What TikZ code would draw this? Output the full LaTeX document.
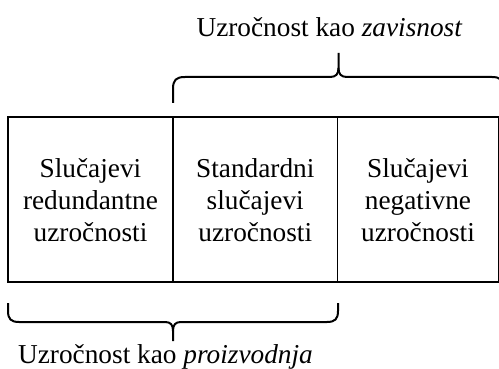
\documentclass[tikz,border=0pt]{standalone}
\usepackage{fontspec}
\setmainfont{Liberation Serif}
\begin{document}
\begin{tikzpicture}[x=1pt,y=-1pt,
  cell/.style={align=center,inner sep=0pt,font=\fontsize{27.3}{32}\selectfont},
  lbl/.style={inner sep=0pt,anchor=base,font=\fontsize{27.3}{32}\selectfont},
  boxline/.style={line width=1.2pt},
  brace/.style={line width=2pt}]
\clip (0,0) rectangle (499,369);
% box
\coordinate (tl) at (8,117);
\coordinate (br) at (498.5,282);
\draw[boxline] (tl) rectangle (br);
\coordinate (d1t) at (173,117);
\coordinate (d1b) at (173,282);
\coordinate (d2t) at (337.5,117);
\coordinate (d2b) at (337.5,282);
\draw[boxline] (d1t) -- (d1b);
\draw[boxline] (d2t) -- (d2b);
% cells
\node[cell] (c1) at (90.5,200) {Slučajevi\\redundantne\\uzročnosti};
\node[cell] (c2) at (255.25,200) {Standardni\\slučajevi\\uzročnosti};
\node[cell] (c3) at (418,200) {Slučajevi\\negativne\\uzročnosti};
% top brace
\coordinate (tb0) at (173,103);
\coordinate (tbtip) at (338.5,53);
\draw[brace] (tb0) -- (173,89) .. controls (173,80) and (176,77) .. (185,77)
  -- (330,77) .. controls (336,77) and (338.5,74) .. (338.5,68) -- (tbtip);
\draw[brace] (338.5,68) .. controls (338.5,74) and (341,77) .. (347,77)
  -- (492,77) .. controls (500,77) and (504,80) .. (504,89) -- (504,103);
% bottom brace
\coordinate (bb0) at (8,303);
\coordinate (bbtip) at (173,341);
\coordinate (bb1) at (338,303);
\draw[brace] (bb0) -- (8,311) .. controls (8,319) and (11,322) .. (19,322)
  -- (165,322) .. controls (171,322) and (173,325) .. (173,331) -- (bbtip);
\draw[brace] (173,331) .. controls (173,325) and (175,322) .. (181,322)
  -- (327,322) .. controls (335,322) and (338,319) .. (338,311) -- (bb1);
% labels
\node[lbl] (top) at (329.5,36.7) {Uzročnost kao \textit{zavisnost}};
\node[lbl] (bot) at (165.5,363) {Uzročnost kao \textit{proizvodnja}};
\end{tikzpicture}
\end{document}
